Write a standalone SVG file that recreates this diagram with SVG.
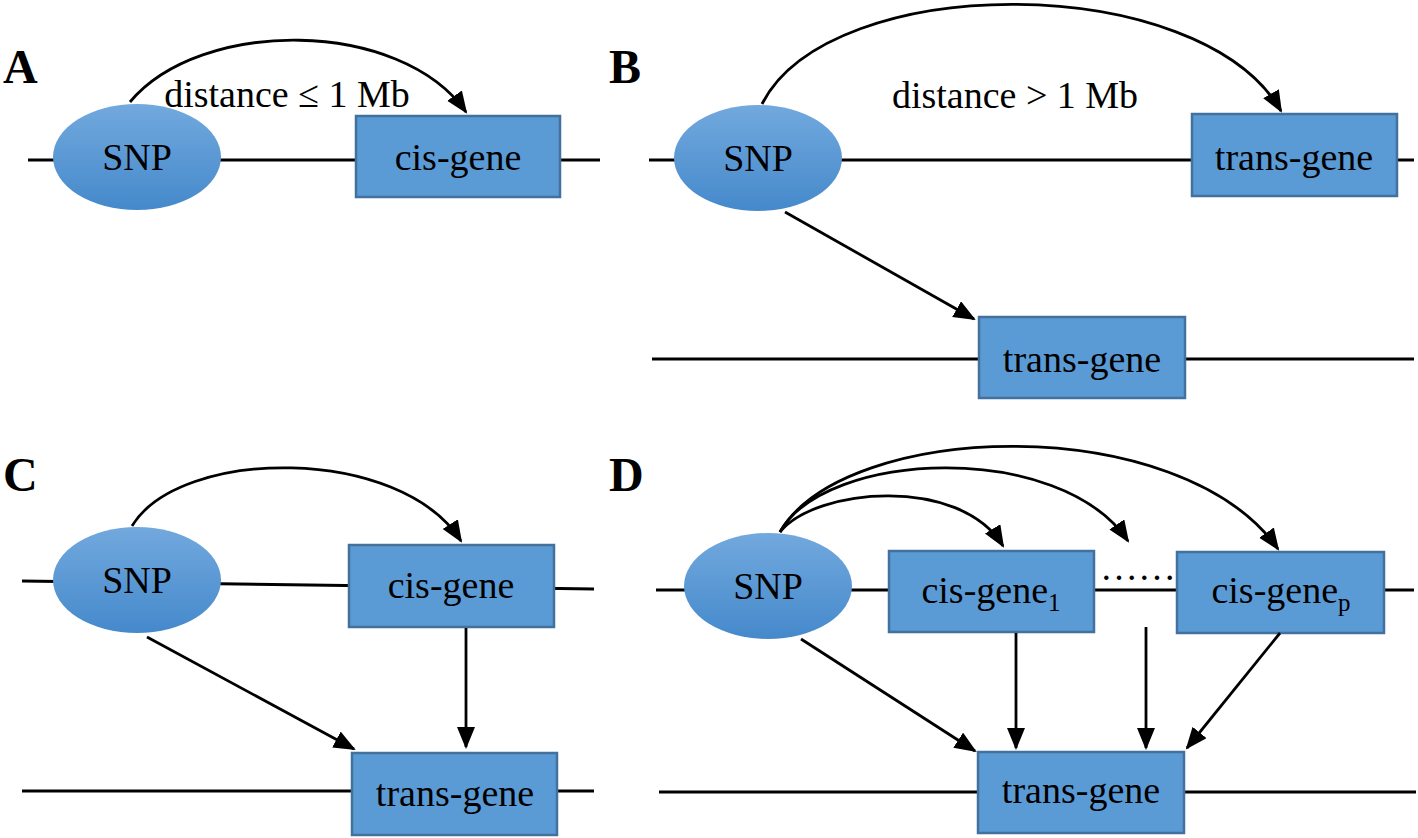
<svg xmlns="http://www.w3.org/2000/svg" width="1418" height="838" viewBox="0 0 1418 838">
<defs>
<linearGradient id="eg" x1="0" y1="0" x2="0" y2="1">
<stop offset="0" stop-color="#72a9de"/>
<stop offset="1" stop-color="#4589cb"/>
</linearGradient>
<marker id="ah" markerUnits="userSpaceOnUse" markerWidth="24" markerHeight="20" refX="20" refY="9" orient="auto">
<path d="M0,0 L22,9 L0,18 z" fill="#000"/>
</marker>
<style>
.chr{stroke:#000;stroke-width:3;fill:none}
.snp{fill:url(#eg)}
.gene{fill:#5b9bd5;stroke:#41719c;stroke-width:2.5}
.lbl{font-family:"Liberation Serif","Times New Roman",serif;font-size:38px;fill:#000;text-anchor:middle}
.sub{font-size:25px}
.pan{font-family:"Liberation Serif","Times New Roman",serif;font-size:48px;font-weight:bold;fill:#000}
.ed{stroke:#000;stroke-width:2.8;fill:none;marker-end:url(#ah)}
</style>
</defs>
<rect width="1418" height="838" fill="#fff"/>

<g id="panel-labels">
<text class="pan" x="3" y="83">A</text>
<text class="pan" x="609" y="83">B</text>
<text class="pan" x="3" y="491">C</text>
<text class="pan" x="609" y="491">D</text>
</g>

<g id="chromosomes">
<line class="chr" x1="28" y1="160" x2="600" y2="160"/>
<line class="chr" x1="649" y1="160" x2="1414" y2="160"/>
<line class="chr" x1="652" y1="359" x2="1414" y2="359"/>
<line class="chr" x1="22" y1="581" x2="594" y2="589"/>
<line class="chr" x1="22" y1="791" x2="594" y2="791"/>
<line class="chr" x1="656" y1="590" x2="1414" y2="590"/>
<line class="chr" x1="659" y1="792" x2="1416" y2="792"/>
</g>

<g id="A-snp"><ellipse class="snp" cx="137" cy="157" rx="84" ry="53"/><text class="lbl" x="137" y="170">SNP</text></g>
<g id="A-cis"><rect class="gene" x="356" y="116" width="204" height="81"/><text class="lbl" x="458" y="170">cis-gene</text></g>

<g id="B-snp"><ellipse class="snp" cx="758" cy="158" rx="84" ry="53"/><text class="lbl" x="758" y="171">SNP</text></g>
<g id="B-trans1"><rect class="gene" x="1192" y="114" width="205" height="82"/><text class="lbl" x="1294" y="170">trans-gene</text></g>
<g id="B-trans2"><rect class="gene" x="979" y="317" width="206" height="81"/><text class="lbl" x="1082" y="372">trans-gene</text></g>

<g id="C-snp"><ellipse class="snp" cx="137" cy="580" rx="84" ry="53"/><text class="lbl" x="137" y="593">SNP</text></g>
<g id="C-cis"><rect class="gene" x="349" y="545" width="205" height="82"/><text class="lbl" x="451" y="598">cis-gene</text></g>
<g id="C-trans"><rect class="gene" x="352" y="753" width="205" height="82"/><text class="lbl" x="455" y="806">trans-gene</text></g>

<g id="D-snp"><ellipse class="snp" cx="768" cy="586" rx="84" ry="53"/><text class="lbl" x="768" y="599">SNP</text></g>
<g id="D-cis1"><rect class="gene" x="889" y="551" width="205" height="81"/><text class="lbl" x="991" y="603">cis-gene<tspan class="sub" dy="8">1</tspan></text></g>
<g id="D-dots"><text class="lbl" x="1138" y="580">……</text></g>
<g id="D-cisp"><rect class="gene" x="1177" y="552" width="207" height="81"/><text class="lbl" x="1281" y="603">cis-gene<tspan class="sub" dy="8">p</tspan></text></g>
<g id="D-trans"><rect class="gene" x="978" y="752" width="206" height="81"/><text class="lbl" x="1081" y="803">trans-gene</text></g>

<g id="A-label"><text class="lbl" x="287" y="107">distance ≤ 1 Mb</text></g>
<g id="B-label"><text class="lbl" x="1015" y="108">distance &gt; 1 Mb</text></g>

<g id="connectors">
<path class="ed" d="M130,102 C200,18 400,18 466,112"/>
<path class="ed" d="M762,104 C830,-30 1200,-30 1281,111"/>
<line class="ed" x1="785" y1="212" x2="974" y2="319"/>
<path class="ed" d="M132,526 C180,447 400,445 461,541"/>
<line class="ed" x1="147" y1="637" x2="354" y2="749"/>
<line class="ed" x1="466" y1="628" x2="466" y2="747"/>
<path class="ed" d="M780,532 C815,488 960,475 1003,546"/>
<path class="ed" d="M780,532 C825,450 1060,440 1128,541"/>
<path class="ed" d="M780,532 C845,420 1180,410 1278,549"/>
<line class="ed" x1="801" y1="639" x2="975" y2="751"/>
<line class="ed" x1="1016" y1="633" x2="1016" y2="748"/>
<line class="ed" x1="1146" y1="627" x2="1146" y2="748"/>
<line class="ed" x1="1280" y1="633" x2="1187" y2="748"/>
</g>
</svg>
